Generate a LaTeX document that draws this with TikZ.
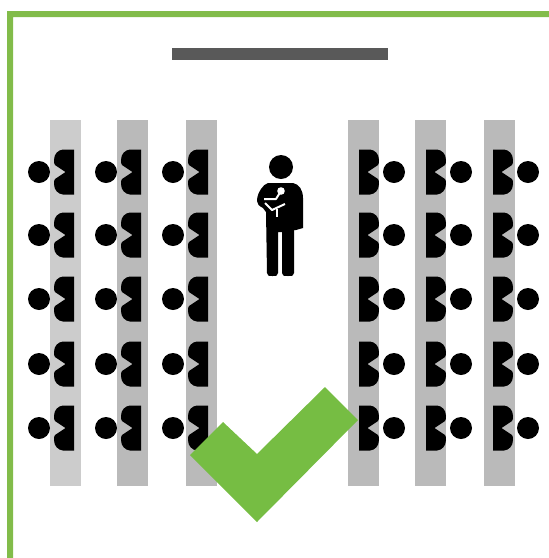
\documentclass[tikz,border=0pt]{standalone}
\usetikzlibrary{calc}

% Audience member, drawn from the flat edge of the chair back
\tikzset{
  seated/.pic={
    \fill[black] (-35,0) circle (11);
    \fill[black] (0,-22.5) -- (-11,-22.5) .. controls (-16,-22) and (-20,-18) .. (-20,-12)
      .. controls (-20,-10) and (-20,-8) .. (-19,-7) -- (-8.5,0) -- (-19,7)
      .. controls (-20,8) and (-20,10) .. (-20,12)
      .. controls (-20,18) and (-16,22) .. (-11,22.5) -- (0,22.5) -- cycle;
  }
}

\begin{document}
\begin{tikzpicture}[x=0.75pt,y=-0.75pt]

    % Parameters
    \def\rowTop{120}
    \def\rowBot{486}
    \def\aisleW{31}

    % Colors
    \definecolor{frameColor}{HTML}{82BC4A}
    \definecolor{checkColor}{HTML}{76BD43}
    \definecolor{screenColor}{HTML}{595959}

    \useasboundingbox (0,0) rectangle (549,558);

    % Room outline
    \fill[frameColor] (7,558) -- (7,11) -- (549,11) -- (549,17) -- (13,17) -- (13,558) -- cycle;

    % Screen
    \fill[screenColor] (172,48) rectangle (388,60);

    % Rows of chairs
    \foreach \xs/\shade in {50/20,117/27,186/27,348/27,415/27,484/27}
      \fill[black!\shade] (\xs,\rowTop) rectangle ++(\aisleW,\rowBot-\rowTop);

    % Audience, left block
    \foreach \xs in {74,141,208}
      \foreach \ys in {172,235,299,364,428}
        \pic at (\xs,\ys) {seated};

    % Audience, right block
    \foreach \xs in {359,426,493}
      \foreach \ys in {172,235,299,364,428}
        \pic[xscale=-1] at (\xs,\ys) {seated};

    % Speaker
    \fill[black] (281,167) circle (12);
    \fill[black] (268,183) -- (293,183) .. controls (299,184) and (303,190) .. (303,198)
      -- (303,228) -- (296,230) -- (294,230) -- (294,273)
      .. controls (294,276) and (292,276) .. (288,276) .. controls (284,276) and (282,276) .. (282,273)
      -- (282,232) -- (278,232) -- (278,273)
      .. controls (278,276) and (276,276) .. (272.5,276) .. controls (269,276) and (267,276) .. (267,273)
      -- (266,212) -- (263,208) .. controls (259,206) and (257,204) .. (257,201)
      .. controls (257,196) and (259,192) .. (261,189)
      .. controls (263,186) and (265,184) .. (268,183) -- cycle;

    % Microphone and forearm in white
    \fill[white] (281,191) circle (3.8);
    \draw[white, line width=1.5pt, line join=round] (264,199) -- (276,199) -- (281,191);
    \draw[white, line width=1.5pt, line join=round] (265,203) -- (272,210) -- (285,204);
    \draw[white, line width=1.8pt] (277,209) -- (277,217);

    % Check mark
    \fill[checkColor] (190,455) -- (223,422) -- (257,454) -- (325,387) -- (358,420) -- (257,522) -- cycle;

\end{tikzpicture}
\end{document}
